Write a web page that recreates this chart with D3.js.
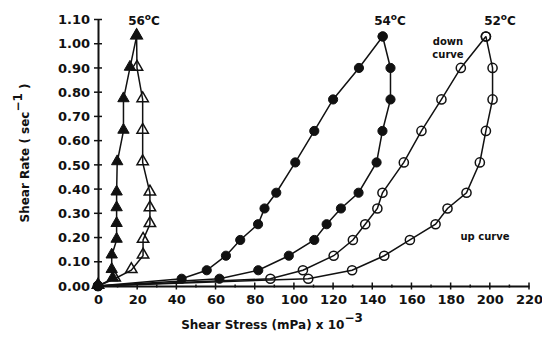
<!DOCTYPE html>
<html>
<head>
<meta charset="utf-8">
<script src="https://cdn.jsdelivr.net/npm/d3@7"></script>
<style>
  body { margin: 0; background: #fff; }
  text { font-family: "DejaVu Sans", sans-serif; font-weight: bold; fill: #111; }
</style>
</head>
<body>
<script>
// Shear rates (sec^-1), shared by every curve
const rates = [0, 0.03, 0.065, 0.125, 0.19, 0.255, 0.32, 0.385, 0.51, 0.64, 0.77, 0.90, 1.03];

// Shear stress (mPa x 10^-3) for each curve
const down56 = [0, 7.5, 7, 7, 9.5, 9.5, 9.5, 9.5, 9.8, 13, 13, 16.3, 19.7];
const up56 = [0, 8.5, 17, 23, 23, 26.5, 26.5, 26.5, 22.8, 22.8, 22.8, 19.9, 19.7];
const down54 = [0, 42.7, 55.5, 65.3, 72.6, 81.7, 85, 91, 100.7, 110.4, 120, 133.2, 145.3];
const up54 = [0, 62, 81.8, 97.4, 110.4, 116.7, 124, 133, 142.2, 145.2, 149.3, 149.3, 145.3];
const down52 = [0, 88, 104.6, 120.3, 130.1, 136.4, 142.6, 145.2, 156.1, 165.1, 175.3, 185.2, 198];
const up52 = [0, 107.3, 129.7, 146.1, 159.2, 172.3, 178.4, 188.1, 194.9, 198, 201.4, 201.4, 198];

const xTicks = d3.range(0, 221, 20);
const yTicks = d3.range(0, 1.101, 0.1);

const width = 542;
const height = 337;

const svg = d3.select('body')
  .append('svg')
  .attr('width', width)
  .attr('height', height);

// Scales
const x = d3.scaleLinear().domain([0, 220]).range([98, 529]);
const y = d3.scaleLinear().domain([0, 1.1]).range([286, 19.5]);

// Axes
const xAxis = svg.append('g').attr('transform', `translate(0,${y(0)})`);
xAxis.call(d3.axisBottom(x).tickValues(xTicks).tickSize(0).tickPadding(9).tickFormat(d3.format('d')));
xAxis.select('.domain').attr('stroke', '#111').attr('stroke-width', 2);
xAxis.selectAll('.tick text').style('font-size', '13px').style('font-family', null);

// major ticks cross the axis, minor ones are small dots
xAxis.selectAll('.major')
  .data(xTicks.slice(1))
  .join('line')
  .attr('x1', d => x(d)).attr('x2', d => x(d))
  .attr('y1', -3.5).attr('y2', 3.5)
  .attr('stroke', '#111').attr('stroke-width', 1.5);
xAxis.selectAll('.minor')
  .data(d3.range(10, 220, 20))
  .join('line')
  .attr('x1', d => x(d)).attr('x2', d => x(d))
  .attr('y1', -1.5).attr('y2', 1.5)
  .attr('stroke', '#111').attr('stroke-width', 1.5);

const yAxis = svg.append('g').attr('transform', `translate(${x(0)},0)`);
yAxis.call(d3.axisLeft(y).tickValues(yTicks).tickSize(0).tickPadding(8).tickFormat(d3.format('.2f')));
yAxis.select('.domain').attr('stroke', '#111').attr('stroke-width', 2);
yAxis.selectAll('.tick text').style('font-size', '13px').style('font-family', null);
yAxis.selectAll('.major')
  .data(yTicks)
  .join('line')
  .attr('x1', -4).attr('x2', 4)
  .attr('y1', d => y(d)).attr('y2', d => y(d))
  .attr('stroke', '#111').attr('stroke-width', 1.5);

// Axis titles
const xTitle = svg.append('text')
  .attr('x', 272)
  .attr('y', 329)
  .attr('text-anchor', 'middle')
  .style('font-size', '12px');
xTitle.append('tspan').text('Shear Stress (mPa) x 10');
xTitle.append('tspan').attr('dy', -7).text('\u22123');

const yTitle = svg.append('text')
  .attr('transform', 'translate(29,153) rotate(-90)')
  .attr('text-anchor', 'middle')
  .style('font-size', '12px');
yTitle.append('tspan').text('Shear Rate ( sec');
yTitle.append('tspan').attr('dy', -7).text('\u22121');
yTitle.append('tspan').attr('dy', 7).text(' )');

// Curves
const curves = [
  { stress: down56, marker: 'triangle', filled: true },
  { stress: up56, marker: 'triangle', filled: false },
  { stress: down54, marker: 'circle', filled: true },
  { stress: up54, marker: 'circle', filled: true },
  { stress: down52, marker: 'circle', filled: false },
  { stress: up52, marker: 'circle', filled: false },
];

const line = d3.line()
  .x(d => x(d[0]))
  .y(d => y(d[1]));

curves.forEach(c => {
  const pts = c.stress.map((s, i) => [s, rates[i]]);
  svg.append('path')
    .datum(pts)
    .attr('d', line)
    .attr('fill', 'none')
    .attr('stroke', '#111')
    .attr('stroke-width', 1.5);

  const sym = d3.symbol()
    .type(c.marker === 'triangle' ? d3.symbolTriangle : d3.symbolCircle)
    .size(c.marker === 'triangle' ? 56 : 66);

  svg.selectAll(null)
    .data(pts)
    .join('path')
    .attr('transform', d => `translate(${x(d[0])},${y(d[1]) - (c.marker === 'triangle' ? 1 : 0)})`)
    .attr('d', sym)
    .attr('fill', c.filled ? '#111' : 'none')
    .attr('stroke', '#111')
    .attr('stroke-width', c.filled ? 1 : 1.5);
});

// Temperature and curve labels
const temps = [
  { label: '56', x: 144 },
  { label: '54', x: 390 },
  { label: '52', x: 500 },
];
temps.forEach(t => {
  const txt = svg.append('text')
    .attr('x', t.x)
    .attr('y', 25)
    .attr('text-anchor', 'middle')
    .style('font-size', '12px');
  txt.append('tspan').text(t.label);
  txt.append('tspan').attr('dy', -5).style('font-size', '9px').text('o');
  txt.append('tspan').attr('dy', 5).text('C');
});

svg.append('text').attr('x', 448).attr('y', 45).attr('text-anchor', 'middle')
  .style('font-size', '10px').text('down');
svg.append('text').attr('x', 448).attr('y', 58).attr('text-anchor', 'middle')
  .style('font-size', '10px').text('curve');
svg.append('text').attr('x', 485).attr('y', 240).attr('text-anchor', 'middle')
  .style('font-size', '10px').text('up curve');
</script>
</body>
</html>
